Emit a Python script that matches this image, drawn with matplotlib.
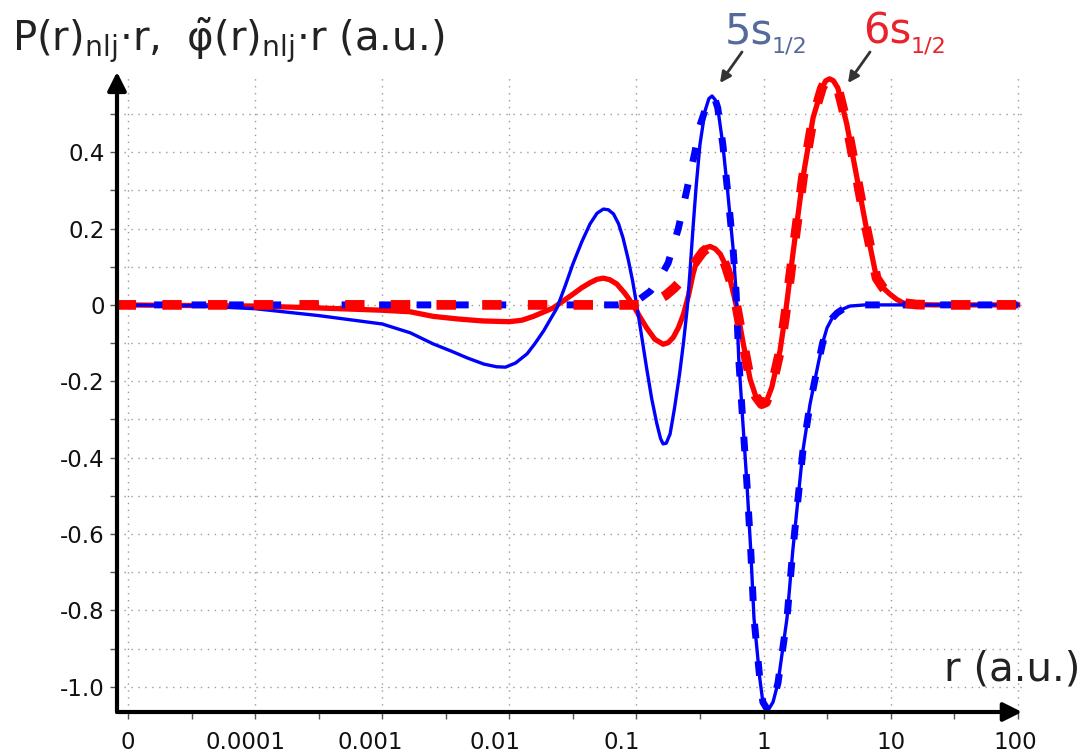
import numpy as np
import matplotlib
matplotlib.use("Agg")
import matplotlib.pyplot as plt
from matplotlib.patches import FancyArrowPatch
from matplotlib.ticker import FixedLocator, NullFormatter
from matplotlib.transforms import ScaledTranslation

# values; x given as log10(r / a.u.)
lg_5s_full = [-5.09, -4.5, -4.0, -3.5, -3.0, -2.78, -2.60, -2.45, -2.33, -2.2, -2.1,
              -2.03, -1.95, -1.86, -1.80, -1.73, -1.625, -1.56, -1.50, -1.43, -1.365,
              -1.31, -1.26, -1.22, -1.18, -1.14, -1.105, -1.065, -1.03, -0.99, -0.955,
              -0.92, -0.88, -0.84, -0.81, -0.79, -0.765, -0.735, -0.70, -0.66, -0.63,
              -0.60, -0.58, -0.555, -0.53, -0.50, -0.46, -0.43, -0.405, -0.38, -0.36,
              -0.32, -0.28, -0.24, -0.215, -0.195, -0.165, -0.13, -0.10, -0.075,
              -0.03, -0.005, 0.035, 0.075, 0.114, 0.185, 0.23, 0.27, 0.31, 0.366,
              0.43, 0.465, 0.50, 0.54, 0.58, 0.63, 0.68, 0.8, 2.0]
p_5s_full = [0.0, -0.002, -0.01, -0.028, -0.05, -0.073, -0.102, -0.122, -0.139, -0.155, -0.162,
             -0.163, -0.152, -0.128, -0.102, -0.068, -0.008, 0.05, 0.107, 0.165, 0.212,
             0.240, 0.251, 0.249, 0.238, 0.212, 0.175, 0.12, 0.063, -0.016, -0.09,
             -0.165, -0.245, -0.31, -0.35, -0.364, -0.362, -0.338, -0.27, -0.18, -0.10,
             -0.008, 0.08, 0.20, 0.31, 0.42, 0.508, 0.54, 0.547, 0.537, 0.516,
             0.42, 0.29, 0.15, 0.03, -0.14, -0.295, -0.47, -0.645, -0.82,
             -0.976, -1.04, -1.062, -1.04, -0.99, -0.82, -0.645, -0.513, -0.382, -0.26,
             -0.155, -0.10, -0.06, -0.035, -0.021, -0.01, -0.003, 0.0, 0.0]

lg_5s_pseudo = [-5.09, -1.15, -1.07, -0.995, -0.89, -0.82, -0.75, -0.67, -0.60, -0.54,
                -0.50, -0.45, -0.405, -0.38, -0.36, -0.32, -0.28, -0.24, -0.215, -0.195,
                -0.165, -0.13, -0.10, -0.075, -0.03, -0.005, 0.035, 0.075, 0.114, 0.185,
                0.23, 0.27, 0.31, 0.366, 0.43, 0.465, 0.50, 0.54, 0.58, 0.63, 0.68, 0.8, 2.0]
p_5s_pseudo = [0.0, 0.0, 0.003, 0.01, 0.036, 0.068, 0.11, 0.2, 0.306, 0.40,
               0.47, 0.52, 0.547, 0.537, 0.516, 0.42, 0.29, 0.15, 0.03, -0.14,
               -0.295, -0.47, -0.645, -0.82, -0.976, -1.04, -1.062, -1.04, -0.99, -0.82,
               -0.645, -0.513, -0.382, -0.26, -0.155, -0.10, -0.06, -0.035, -0.021, -0.01, -0.003, 0.0, 0.0]

lg_6s_full = [-5.09, -4.0, -3.5, -3.0, -2.78, -2.60, -2.40, -2.21, -2.0, -1.90, -1.81,
              -1.655, -1.50, -1.43, -1.365, -1.31, -1.26, -1.21, -1.155, -1.09, -1.03,
              -0.975, -0.92, -0.855, -0.79, -0.75, -0.71, -0.67, -0.63, -0.59, -0.555,
              -0.53, -0.50, -0.47, -0.42, -0.38, -0.34, -0.30, -0.26, -0.21, -0.16,
              -0.105, -0.06, -0.015, 0.02, 0.065, 0.13, 0.17, 0.23, 0.31, 0.39,
              0.46, 0.49, 0.52, 0.55, 0.585, 0.655, 0.735, 0.81, 0.89, 0.94, 0.995,
              1.05, 1.10, 1.2, 1.33, 2.0]
p_6s_full = [0.0, -0.003, -0.008, -0.014, -0.018, -0.03, -0.037, -0.042, -0.044, -0.04, -0.03,
             -0.008, 0.028, 0.045, 0.058, 0.067, 0.07, 0.066, 0.055, 0.03, 0.002,
             -0.03, -0.06, -0.09, -0.103, -0.099, -0.085, -0.06, -0.025, 0.025, 0.08,
             0.11, 0.135, 0.148, 0.153, 0.147, 0.133, 0.105, 0.063, -0.008, -0.10,
             -0.195, -0.24, -0.26, -0.255, -0.216, -0.12, -0.03, 0.13, 0.333, 0.49,
             0.568, 0.587, 0.592, 0.587, 0.568, 0.474, 0.333, 0.20, 0.07, 0.045, 0.028,
             0.014, 0.005, 0.001, 0.0, 0.0]

lg_6s_pseudo = [-5.09, -0.95, -0.85, -0.77, -0.70, -0.60, -0.53, -0.475, -0.42, -0.38,
                -0.34, -0.30, -0.26, -0.21, -0.16, -0.105, -0.06, -0.015, 0.02, 0.065,
                0.13, 0.17, 0.23, 0.31, 0.39, 0.46, 0.49, 0.52, 0.55, 0.585, 0.655,
                0.735, 0.81, 0.89, 0.94, 0.995, 1.05, 1.10, 1.2, 1.33, 2.0]
p_6s_pseudo = [0.0, 0.0, 0.01, 0.025, 0.045, 0.08, 0.115, 0.14, 0.153, 0.147,
               0.133, 0.105, 0.063, -0.008, -0.10, -0.195, -0.24, -0.26, -0.255, -0.216,
               -0.12, -0.03, 0.13, 0.333, 0.49, 0.568, 0.587, 0.592, 0.587, 0.568, 0.474,
               0.333, 0.20, 0.07, 0.045, 0.028, 0.014, 0.005, 0.001, 0.0, 0.0]

x_ticks = [1e-5, 1e-4, 1e-3, 1e-2, 1e-1, 1, 10, 100]
x_ticklabels = ["0", "0.0001", "0.001", "0.01", "0.1", "1", "10", "100"]
y_ticks = [0.4, 0.2, 0.0, -0.2, -0.4, -0.6, -0.8, -1.0]
y_ticklabels = ["0.4", "0.2", "0", "-0.2", "-0.4", "-0.6", "-0.8", "-1.0"]

BLUE = "#0000ff"
RED = "#ff0000"

fig = plt.figure(figsize=(10.86, 7.53), dpi=100)
ax = fig.add_axes([117 / 1086, 41 / 753, 905 / 1086, 637 / 753])
ax.set_xscale("log")
ax.set_xlim(10 ** -5.087, 10 ** 2.034)
ax.set_ylim(-1.066, 0.602)

# ─── curves ───
ax.plot(10 ** np.array(lg_6s_full), p_6s_full, color=RED, lw=3.8, zorder=3,
        solid_joinstyle="round")
ax.plot(10 ** np.array(lg_5s_full), p_5s_full, color=BLUE, lw=2.4, zorder=4,
        solid_joinstyle="round")
ax.plot(10 ** np.array(lg_5s_pseudo), p_5s_pseudo, color=BLUE, lw=5,
        dashes=(2.1, 3.3), zorder=5)
ax.plot(10 ** np.array(lg_6s_pseudo), p_6s_pseudo, color=RED, lw=7,
        dashes=(2.0, 2.7), zorder=6)

# ─── ticks & grid ───
ax.xaxis.set_major_locator(FixedLocator(x_ticks))
ax.set_xticklabels(x_ticklabels)
ax.xaxis.set_minor_locator(FixedLocator([10 ** (k + 0.5) for k in range(-5, 2)]))
ax.xaxis.set_minor_formatter(NullFormatter())
ax.set_yticks(y_ticks)
ax.set_yticklabels(y_ticklabels)
ax.yaxis.set_minor_locator(FixedLocator([-0.9, -0.7, -0.5, -0.3, -0.1, 0.1, 0.3, 0.5]))
ax.tick_params(which="both", direction="out", length=5, width=1, color="#555555",
               labelsize=16.5, labelcolor="#111111")
ax.tick_params(axis="x", pad=9)
ax.tick_params(axis="y", pad=4)
ax.grid(axis="x", which="major", color="#9a9a9a", lw=1, linestyle=(0, (1, 4)))
ax.grid(axis="y", which="both", color="#9a9a9a", lw=1, linestyle=(0, (1, 4)))
ax.set_axisbelow(True)

# decimal labels sit a little left of their ticks in the original
for lab, dx in zip(ax.get_xticklabels(), [0, -10, -12, -14, -15, 0, 0, -2]):
    lab.set_transform(lab.get_transform() + ScaledTranslation(dx / 100, 0, fig.dpi_scale_trans))

for s in ax.spines.values():
    s.set_visible(False)
arrow = dict(arrowstyle="-|>", lw=3, color="black", mutation_scale=28,
             shrinkA=0, shrinkB=0)
ax.annotate("", xy=(0, 1.005), xytext=(0, 0), xycoords="axes fraction",
            arrowprops=arrow, annotation_clip=False, zorder=10)
ax.annotate("", xy=(1.0, 0), xytext=(0, 0), xycoords="axes fraction",
            arrowprops=arrow, annotation_clip=False, zorder=10)

# ─── axis titles ───
fig.text(12 / 1086, 1 - 50 / 753,
         r"P(r)$_{\mathrm{nlj}}$$\cdot$r,  $\tilde{\mathrm{φ}}$(r)$_{\mathrm{nlj}}$$\cdot$r (a.u.)",
         fontsize=29, color="#222222", ha="left", va="baseline")
fig.text(1080 / 1086, 1 - 680 / 753, "r (a.u.)", fontsize=29, color="#222222",
         ha="right", va="baseline")

# ─── state labels ───
for name, x0, x1, col in [("5s", 725, 772, "#55699a"), ("6s", 863, 911, "#e8232b")]:
    fig.text(x0 / 1086, 1 - 43 / 753, name, fontsize=30, color=col,
             ha="left", va="baseline")
    fig.text(x1 / 1086, 1 - 53 / 753, "1/2", fontsize=16, color=col,
             ha="left", va="baseline")
small = dict(arrowstyle="-|>", lw=2, color="#333333", mutation_scale=16,
             shrinkA=0, shrinkB=0)
fig.add_artist(FancyArrowPatch((742 / 1086, 1 - 52 / 753), (720 / 1086, 1 - 83 / 753),
                               transform=fig.transFigure, **small))
fig.add_artist(FancyArrowPatch((870 / 1086, 1 - 52 / 753), (848 / 1086, 1 - 83 / 753),
                               transform=fig.transFigure, **small))

fig.savefig("out.png", dpi=100)
